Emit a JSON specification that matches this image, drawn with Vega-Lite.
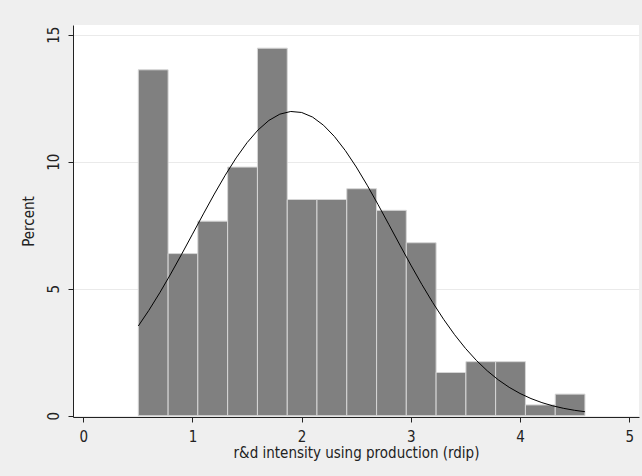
{
  "$schema": "https://vega.github.io/schema/vega-lite/v6.json",
  "width": 566,
  "height": 392,
  "autosize": "none",
  "padding": {"left": 73, "top": 25, "right": 3, "bottom": 59},
  "background": "#efefef",
  "view": {"fill": "white", "stroke": null},
  "config": {
    "font": "Liberation Sans Narrow, DejaVu Sans Condensed, Liberation Sans, sans-serif",
    "axis": {
      "labelFont": "Liberation Sans Narrow, DejaVu Sans Condensed, Liberation Sans, sans-serif",
      "titleFont": "Liberation Sans Narrow, DejaVu Sans Condensed, Liberation Sans, sans-serif",
      "labelFontSize": 15,
      "titleFontSize": 15,
      "titleFontWeight": "normal",
      "labelColor": "#222222",
      "titleColor": "#222222",
      "domainColor": "#222222",
      "tickColor": "#222222",
      "domainWidth": 1,
      "tickWidth": 1,
      "tickSize": 5
    }
  },
  "datasets": {
    "bars": [
      {"bin_start": 0.504, "bin_end": 0.777, "count": 32, "percent": 13.617},
      {"bin_start": 0.777, "bin_end": 1.049, "count": 15, "percent": 6.383},
      {"bin_start": 1.049, "bin_end": 1.322, "count": 18, "percent": 7.660},
      {"bin_start": 1.322, "bin_end": 1.595, "count": 23, "percent": 9.787},
      {"bin_start": 1.595, "bin_end": 1.868, "count": 34, "percent": 14.468},
      {"bin_start": 1.868, "bin_end": 2.140, "count": 20, "percent": 8.511},
      {"bin_start": 2.140, "bin_end": 2.413, "count": 20, "percent": 8.511},
      {"bin_start": 2.413, "bin_end": 2.686, "count": 21, "percent": 8.936},
      {"bin_start": 2.686, "bin_end": 2.958, "count": 19, "percent": 8.085},
      {"bin_start": 2.958, "bin_end": 3.231, "count": 16, "percent": 6.809},
      {"bin_start": 3.231, "bin_end": 3.504, "count": 4, "percent": 1.702},
      {"bin_start": 3.504, "bin_end": 3.776, "count": 5, "percent": 2.128},
      {"bin_start": 3.776, "bin_end": 4.049, "count": 5, "percent": 2.128},
      {"bin_start": 4.049, "bin_end": 4.322, "count": 1, "percent": 0.426},
      {"bin_start": 4.322, "bin_end": 4.594, "count": 2, "percent": 0.851}
    ],
    "curve": [
      {"x": 0.504, "percent": 3.533},
      {"x": 0.6, "percent": 4.144},
      {"x": 0.7, "percent": 4.836},
      {"x": 0.8, "percent": 5.576},
      {"x": 0.9, "percent": 6.351},
      {"x": 1.0, "percent": 7.146},
      {"x": 1.1, "percent": 7.944},
      {"x": 1.2, "percent": 8.725},
      {"x": 1.3, "percent": 9.467},
      {"x": 1.4, "percent": 10.148},
      {"x": 1.5, "percent": 10.749},
      {"x": 1.6, "percent": 11.246},
      {"x": 1.7, "percent": 11.624},
      {"x": 1.8, "percent": 11.871},
      {"x": 1.9, "percent": 11.976},
      {"x": 2.0, "percent": 11.937},
      {"x": 2.1, "percent": 11.755},
      {"x": 2.2, "percent": 11.435},
      {"x": 2.3, "percent": 10.991},
      {"x": 2.4, "percent": 10.436},
      {"x": 2.5, "percent": 9.790},
      {"x": 2.6, "percent": 9.073},
      {"x": 2.7, "percent": 8.307},
      {"x": 2.8, "percent": 7.514},
      {"x": 2.9, "percent": 6.715},
      {"x": 3.0, "percent": 5.929},
      {"x": 3.1, "percent": 5.171},
      {"x": 3.2, "percent": 4.456},
      {"x": 3.3, "percent": 3.794},
      {"x": 3.4, "percent": 3.191},
      {"x": 3.5, "percent": 2.651},
      {"x": 3.6, "percent": 2.177},
      {"x": 3.7, "percent": 1.765},
      {"x": 3.8, "percent": 1.414},
      {"x": 3.9, "percent": 1.119},
      {"x": 4.0, "percent": 0.875},
      {"x": 4.1, "percent": 0.676},
      {"x": 4.2, "percent": 0.516},
      {"x": 4.3, "percent": 0.389},
      {"x": 4.4, "percent": 0.290},
      {"x": 4.5, "percent": 0.213},
      {"x": 4.594, "percent": 0.158}
    ]
  },
  "layer": [
    {
      "data": {"name": "bars"},
      "mark": {"type": "rect", "fill": "#808080", "stroke": "#d6d6d6", "strokeWidth": 1},
      "encoding": {
        "x": {
          "field": "bin_start",
          "type": "quantitative",
          "scale": {"domain": [-0.094, 5.089], "nice": false, "zero": false},
          "axis": {
            "values": [0, 1, 2, 3, 4, 5],
            "format": "d",
            "grid": false,
            "labelPadding": 7,
            "title": "r&d intensity using production (rdip)",
            "titlePadding": 1
          }
        },
        "x2": {"field": "bin_end"},
        "y": {
          "field": "percent",
          "type": "quantitative",
          "scale": {"domain": [-0.05, 15.38], "nice": false, "zero": false},
          "axis": {
            "values": [0, 5, 10, 15],
            "format": "d",
            "grid": true,
            "gridColor": "#eaeaea",
            "gridWidth": 1,
            "labelAngle": -90,
            "labelAlign": "center",
            "labelBaseline": "bottom",
            "labelPadding": 7,
            "title": "Percent",
            "titlePadding": 10
          }
        },
        "y2": {"datum": 0}
      }
    },
    {
      "data": {"name": "curve"},
      "mark": {"type": "line", "color": "#000000", "strokeWidth": 1},
      "encoding": {
        "x": {"field": "x", "type": "quantitative"},
        "y": {"field": "percent", "type": "quantitative"}
      }
    }
  ]
}
